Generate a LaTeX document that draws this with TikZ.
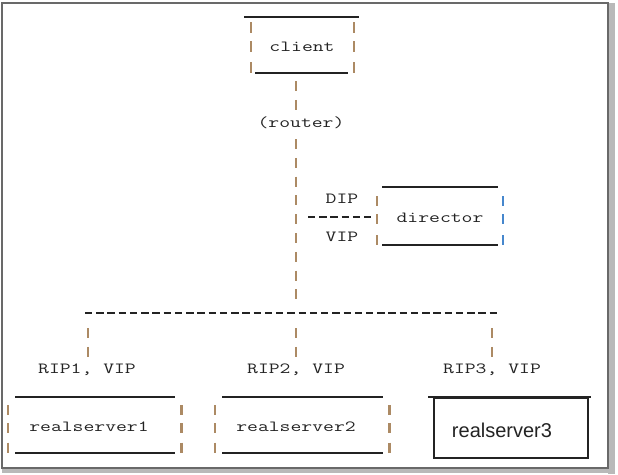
\documentclass[tikz,border=0pt]{standalone}
\usepackage{fontspec}
\setmainfont{Liberation Sans}
\usetikzlibrary{positioning}
\definecolor{pipecol}{RGB}{172,138,100}
\definecolor{pipeblue}{RGB}{70,135,205}
\definecolor{framecol}{RGB}{105,105,105}
\definecolor{shadecol}{RGB}{185,185,185}
\definecolor{inkcol}{RGB}{35,35,35}
\newcommand{\wide}[1]{\scalebox{1.36}[1]{#1}}
\tikzset{
  ascii/.style={inner sep=0pt, text=inkcol, font=\ttfamily\fontsize{15.5}{18}\selectfont},
  tick/.style={draw=pipecol, line width=2.2pt},
  pipe/.style={draw=pipecol, line width=2.2pt, dash pattern=on 10pt off 8.8pt},
  rule/.style={draw=inkcol, line width=1.1pt},
  bus/.style={draw=inkcol, line width=1.1pt, dash pattern=on 7.4pt off 3.84pt},
}
\begin{document}
\begin{tikzpicture}[x=1pt,y=-1pt]
\useasboundingbox (0,0) rectangle (618,474);
%frame
\fill[shadecol] (608,3) rectangle (615,474);
\fill[shadecol] (2,468) rectangle (615,473);
\draw[framecol, line width=2pt] (2,3) rectangle (608,467.5);
%texts
\node[ascii] (client) at (302,47) {\wide{client}};
\node[ascii] (router) at (301,123) {\wide{(router)}};
\node[ascii] (dip) at (342,199) {\wide{DIP}};
\node[ascii] (vip) at (342,237) {\wide{VIP}};
\node[ascii] (director) at (440,218) {\wide{director}};
\node[ascii] (rip1) at (87,370) {\wide{RIP1, VIP}};
\node[ascii] (rip2) at (296,370) {\wide{RIP2, VIP}};
\node[ascii] (rip3) at (492,370) {\wide{RIP3, VIP}};
\node[ascii] (rs1) at (89,427) {\wide{realserver1}};
\node[ascii] (rs2) at (296,427) {\wide{realserver2}};
\node[inner sep=0pt, text=inkcol, font=\fontsize{20}{24}\selectfont] (rs3) at (502,430) {realserver3};
%client box
\draw[rule] (244,17) -- (359,17);
\draw[rule] (255,73) -- (348,73);
\foreach \y in {27.5,46.5,67.5} {
  \draw[tick] (251,\y-5.5) -- (251,\y+5.5);
  \draw[tick] (354,\y-5.5) -- (354,\y+5.5);
}
%director box
\draw[rule] (382,187) -- (498,187);
\draw[rule] (382,245) -- (498,245);
\foreach \y in {201,219,240} {
  \draw[tick] (377,\y-5) -- (377,\y+5);
  \draw[tick, draw=pipeblue] (503,\y-5) -- (503,\y+5);
}
%realserver boxes
\foreach \l/\r in {15/175,222/383} {
  \draw[rule] (\l,397) -- (\r,397);
  \draw[rule] (\l,453) -- (\r,453);
  \foreach \y in {410,428,447.5} {
    \draw[tick] (\l-7,\y-5) -- (\l-7,\y+5);
    \draw[tick] (\r+6.5,\y-5) -- (\r+6.5,\y+5);
  }
}
\draw[rule] (428,397) -- (591,397);
\draw[draw=inkcol, line width=1.5pt] (434,398) rectangle (588,458);
%column
\coordinate (c0) at (296,81);
\coordinate (c1) at (296,139);
\coordinate (busL) at (85,313);
\coordinate (busR) at (497,313);
\coordinate (tap) at (308,217);
\coordinate (dirL) at (371,217);
\draw[pipe] (c0) -- (c0 |- router.north);
\draw[pipe] (c1) -- (296,300);
\draw[bus] (tap) -- (dirL);
\draw[bus] (busL) -- (busR);
%drops
\foreach \x in {88,296,492} {
  \draw[pipe] (\x,328) -- (\x,357);
}
\end{tikzpicture}
\end{document}
